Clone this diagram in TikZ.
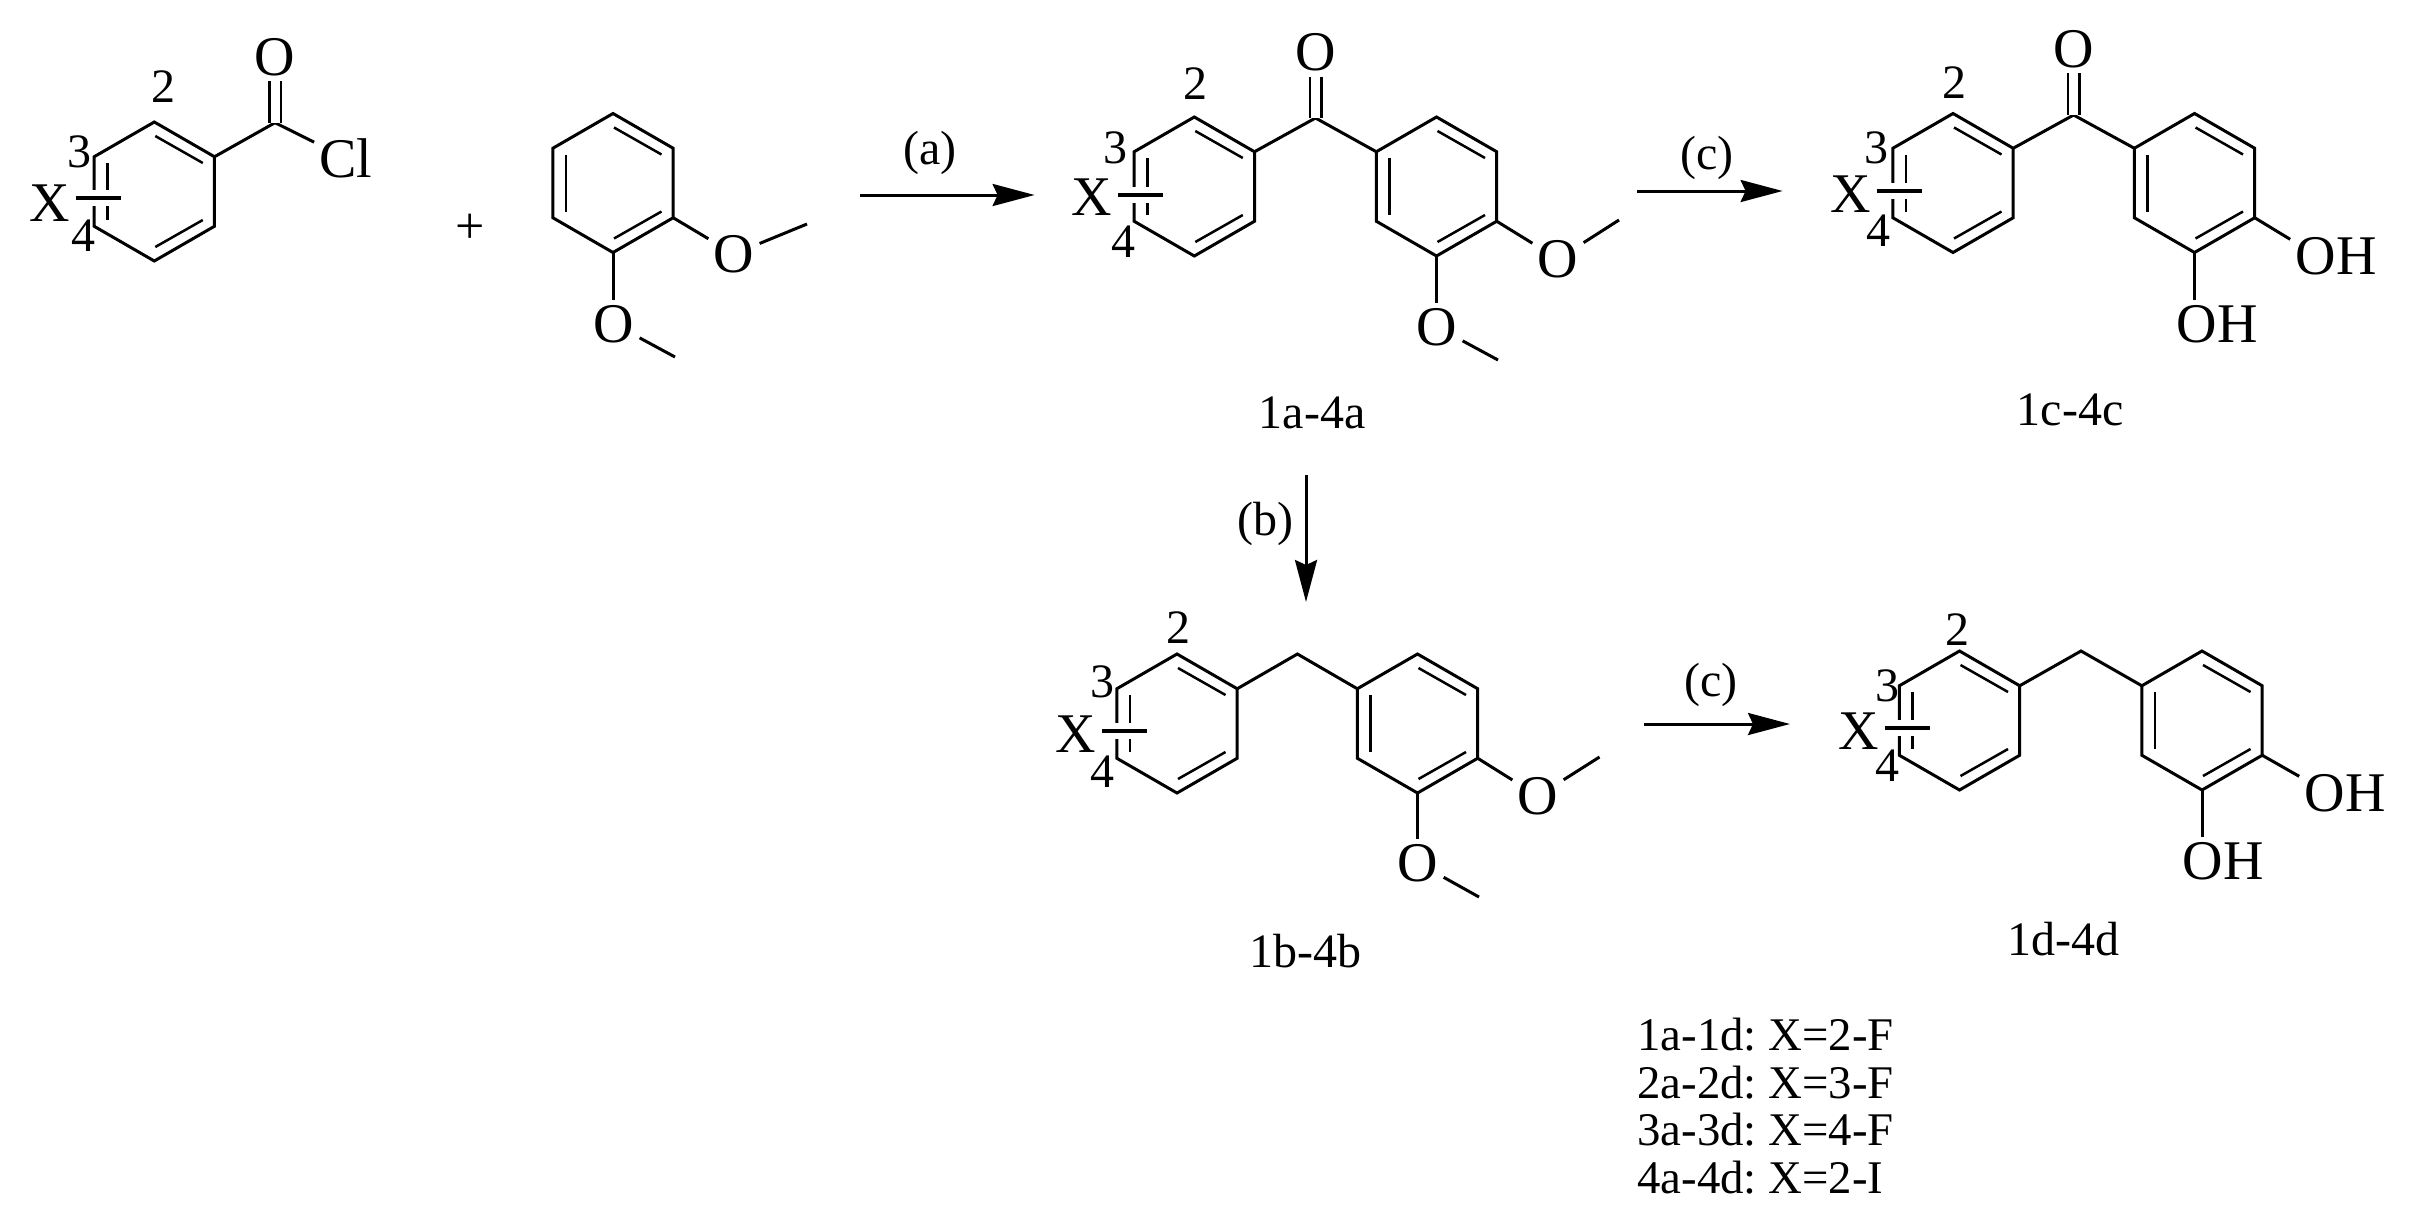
\documentclass[tikz,border=0pt]{standalone}
\usepackage{fontspec}
\setmainfont{Liberation Serif}
\usetikzlibrary{arrows.meta,shapes.geometric}
\frenchspacing
\begin{document}
\begin{tikzpicture}[x=0.5pt,y=-0.5pt]
        \tikzstyle{bond}=[line width=1.5pt]
        \tikzstyle{thin bond}=[line width=1.25pt]
        \tikzstyle{co bond}=[line width=1.25pt, double, double distance=4.5pt]
        \tikzstyle{bar}=[line width=1.75pt, preaction={draw=white, line width=8pt}]
        \tikzstyle{react}=[line width=1.5pt, -{Stealth[length=21pt, width=11pt, inset=2.5pt]}]
        \tikzstyle{atom}=[font=\fontsize{28}{28}\selectfont, inner sep=2.5pt]
        \tikzstyle{num}=[font=\fontsize{24}{24}\selectfont, inner sep=0pt]
        \tikzstyle{key}=[font=\fontsize{23.4}{24}\selectfont, inner sep=0pt, anchor=west]
        \tikzstyle{ring}=[regular polygon, regular polygon sides=6, shape border rotate=30, minimum size=69.5pt, inner sep=0pt, outer sep=0pt, draw, line width=1.5pt, path picture={
                \draw[thin bond] (path picture bounding box.center) ++(-23.5pt,14.25pt) -- ++(0pt,-28.5pt);
                \draw[thin bond] (path picture bounding box.center) ++(0.5pt,27.75pt) -- ++(23.75pt,-13.5pt);
                \draw[thin bond] (path picture bounding box.center) ++(0.5pt,-27.75pt) -- ++(23.75pt,13.5pt);
        }]
        \useasboundingbox (0,0) rectangle (2412,1227);

        \node[ring] (ra) at (154.3,191.5) {};
        \coordinate (ca) at (275,122.7);
        \node[atom] (oa) at (275,57) {O};
        \node[atom] (cl) at (346,158) {Cl};
        \draw[bond] (ra.corner 6) -- (ca) -- (cl);
        \draw[co bond] (ca) -- (oa);
        \node[num] (twoa) at (163.5,87) {2};
        \node[num] (threea) at (79,152) {3};
        \node[num] (foura) at (83,236) {4};
        \node[atom] (xa) at (50,203) {X};
        \coordinate (ba) at (121,198);
        \draw[bar] (xa.east |- ba) -- (ba);

        \node[atom, font=\fontsize{26}{26}\selectfont] (plus) at (470,229) {+};

        \node[ring] (rb) at (613,183) {};
        \node[atom] (ob) at (734,254) {O};
        \coordinate (mb) at (807,224);
        \node[atom] (obb) at (614,324) {O};
        \coordinate (mbb) at (675,357);
        \draw[bond] (rb.corner 5) -- (ob) -- (mb);
        \draw[bond] (rb.corner 4) -- (rb.corner 4 |- obb.north);
        \draw[bond] (obb) -- (mbb);

        \coordinate (aa) at (860,195);
        \coordinate (ab) at (1034.6,195);
        \draw[react] (aa) -- (ab);
        \node[num] (la) at (930,153) {(a)};

        \node[ring] (rc) at (1194.3,186.5) {};
        \node[ring] (rd) at (1436.5,186.5) {};
        \coordinate (cc) at (1315.5,118);
        \node[atom] (oc) at (1315.5,52.7) {O};
        \draw[bond] (rc.corner 6) -- (cc) -- (rd.corner 2);
        \draw[co bond] (cc) -- (oc);
        \node[atom] (od) at (1558,259) {O};
        \coordinate (md) at (1619,220);
        \node[atom] (odd) at (1437,327) {O};
        \coordinate (mdd) at (1498,360);
        \draw[bond] (rd.corner 5) -- (od) -- (md);
        \draw[bond] (rd.corner 4) -- (rd.corner 4 |- odd.north);
        \draw[bond] (odd) -- (mdd);
        \node[num] (twoc) at (1195,84) {2};
        \node[num] (threec) at (1115,148) {3};
        \node[num] (fourc) at (1123,242) {4};
        \node[atom] (xc) at (1092,197) {X};
        \coordinate (bc) at (1163,195);
        \draw[bar] (xc.east |- bc) -- (bc);
        \node[num] (na) at (1312,413) {1a-4a};

        \coordinate (ca1) at (1637,191);
        \coordinate (ca2) at (1782.6,191);
        \draw[react] (ca1) -- (ca2);
        \node[num] (lc) at (1707,158) {(c)};

        \node[ring] (re) at (1953,183) {};
        \node[ring] (rf) at (2194.5,183) {};
        \coordinate (ce) at (2073.6,115);
        \node[atom] (oe) at (2073.6,49) {O};
        \draw[bond] (re.corner 6) -- (ce) -- (rf.corner 2);
        \draw[co bond] (ce) -- (oe);
        \node[atom] (of) at (2336,256) {OH};
        \node[atom] (off) at (2217,324) {OH};
        \draw[bond] (rf.corner 5) -- (of.160);
        \draw[bond] (rf.corner 4) -- (rf.corner 4 |- off.north);
        \node[num] (twoe) at (1954,83) {2};
        \node[num] (threee) at (1876.5,148) {3};
        \node[num] (foure) at (1878,231) {4};
        \node[atom] (xe) at (1851,194) {X};
        \coordinate (be) at (1922,191);
        \draw[bar] (xe.east |- be) -- (be);
        \node[num] (nc) at (2070,410) {1c-4c};

        \coordinate (ba1) at (1306,475);
        \coordinate (ba2) at (1306,602);
        \draw[react] (ba1) -- (ba2);
        \node[num] (lb) at (1265,524) {(b)};

        \node[ring] (rg) at (1177,723.5) {};
        \node[ring] (rh) at (1417.5,723.5) {};
        \coordinate (cg) at (1297.4,654);
        \draw[bond] (rg.corner 6) -- (cg) -- (rh.corner 2);
        \node[atom] (oh) at (1538,796) {O};
        \coordinate (mh) at (1599.5,757);
        \node[atom] (ohh) at (1418,863) {O};
        \coordinate (mhh) at (1479,897);
        \draw[bond] (rh.corner 5) -- (oh) -- (mh);
        \draw[bond] (rh.corner 4) -- (rh.corner 4 |- ohh.north);
        \draw[bond] (ohh) -- (mhh);
        \node[num] (twog) at (1178,628) {2};
        \node[num] (threeg) at (1102,682) {3};
        \node[num] (fourg) at (1102,772) {4};
        \node[atom] (xg) at (1076,734) {X};
        \coordinate (bg) at (1147,731);
        \draw[bar] (xg.east |- bg) -- (bg);
        \node[num] (nb) at (1305,951) {1b-4b};

        \coordinate (cb1) at (1644,724);
        \coordinate (cb2) at (1790,724);
        \draw[react] (cb1) -- (cb2);
        \node[num] (lcc) at (1711,685) {(c)};

        \node[ring] (ri) at (1959.5,720.5) {};
        \node[ring] (rj) at (2202,720.5) {};
        \coordinate (ci) at (2081,651);
        \draw[bond] (ri.corner 6) -- (ci) -- (rj.corner 2);
        \node[atom] (oj) at (2345,793) {OH};
        \node[atom] (ojj) at (2223,861) {OH};
        \draw[bond] (rj.corner 5) -- (oj.160);
        \draw[bond] (rj.corner 4) -- (rj.corner 4 |- ojj.north);
        \node[num] (twoi) at (1957,630) {2};
        \node[num] (threei) at (1887,686) {3};
        \node[num] (fouri) at (1887,766) {4};
        \node[atom] (xi) at (1859,731) {X};
        \coordinate (bi) at (1930,728);
        \draw[bar] (xi.east |- bi) -- (bi);
        \node[num] (nd) at (2063,939) {1d-4d};

        \node[key] (keya) at (1637,1035) {1a-1d: X=2-F};
        \node[key] (keyb) at (1637,1083) {2a-2d: X=3-F};
        \node[key] (keyc) at (1637,1130) {3a-3d: X=4-F};
        \node[key] (keyd) at (1637,1178) {4a-4d: X=2-I};
\end{tikzpicture}
\end{document}
